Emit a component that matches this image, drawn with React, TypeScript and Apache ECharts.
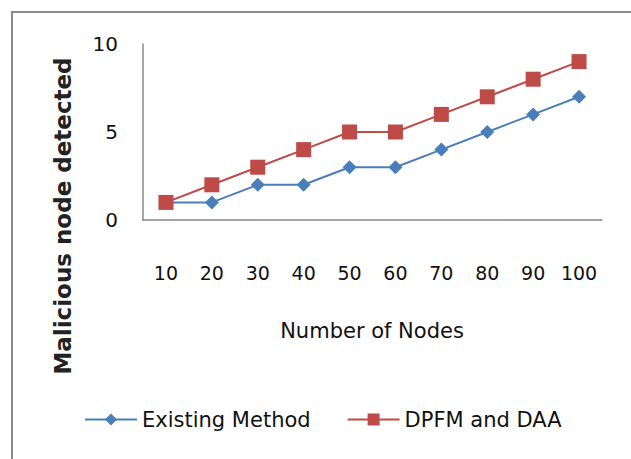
import React, { useEffect, useRef } from "react";
import * as echarts from "echarts";

const categories = ["10", "20", "30", "40", "50", "60", "70", "80", "90", "100"];
const existingMethod = [1, 1, 2, 2, 3, 3, 4, 5, 6, 7];
const dpfmDaa = [1, 2, 3, 4, 5, 5, 6, 7, 8, 9];
const seriesNames = ["Existing Method", "DPFM and DAA"];
const yTitle = "Malicious node detected";
const xTitle = "Number of Nodes";

export default function App() {
  const ref = useRef<HTMLDivElement>(null);
  useEffect(() => {
    if (!ref.current) return;
    const chart = echarts.init(ref.current, null, { renderer: "svg" });
    const font = "DejaVu Sans";
    chart.setOption({
      animation: false,
      backgroundColor: "#ffffff",
      grid: { left: 143, top: 44, right: 29, bottom: 239 },
      legend: {
        left: 79,
        top: 404,
        itemWidth: 52,
        itemHeight: 15,
        itemGap: 36,
        textStyle: { fontFamily: font, fontSize: 21, color: "#111" },
        data: seriesNames,
      },
      xAxis: {
        type: "category",
        data: categories,
        boundaryGap: true,
        axisLine: { show: true, lineStyle: { color: "#888", width: 1.5 } },
        axisTick: { show: false },
        axisLabel: { interval: 0, margin: 43, fontFamily: font, fontSize: 19, color: "#111" },
        splitLine: { show: false },
      },
      yAxis: {
        type: "value",
        min: 0,
        max: 10,
        interval: 5,
        axisLine: { show: true, lineStyle: { color: "#888", width: 1.5 } },
        axisTick: { show: false },
        axisLabel: { margin: 25, fontFamily: font, fontSize: 20, color: "#111" },
        splitLine: { show: false },
      },
      graphic: [
        {
          type: "rect",
          shape: { x: 12, y: 12, width: 640, height: 460 },
          style: { fill: "none", stroke: "#8a8a8a", lineWidth: 2 },
          silent: true,
        },
        {
          type: "text",
          x: 63,
          y: 216,
          rotation: Math.PI / 2,
          style: {
            text: yTitle,
            fontFamily: font,
            fontSize: 23,
            fontWeight: "bold",
            fill: "#222",
            align: "center",
            verticalAlign: "middle",
          },
        },
        {
          type: "text",
          x: 372,
          y: 331,
          style: {
            text: xTitle,
            fontFamily: font,
            fontSize: 21,
            fill: "#111",
            align: "center",
            verticalAlign: "middle",
          },
        },
      ],
      series: [
        {
          name: seriesNames[0],
          type: "line",
          data: existingMethod,
          symbol: "diamond",
          symbolSize: 14,
          itemStyle: { color: "#4a7ebb" },
          lineStyle: { color: "#4a7ebb", width: 2 },
          z: 2,
        },
        {
          name: seriesNames[1],
          type: "line",
          data: dpfmDaa,
          symbol: "rect",
          symbolSize: 15,
          itemStyle: { color: "#be4b48" },
          lineStyle: { color: "#be4b48", width: 2 },
          z: 3,
        },
      ],
    });
    return () => chart.dispose();
  }, []);
  return <div ref={ref} style={{ width: 631, height: 459, position: "absolute", left: 0, top: 0 }} />;
}
